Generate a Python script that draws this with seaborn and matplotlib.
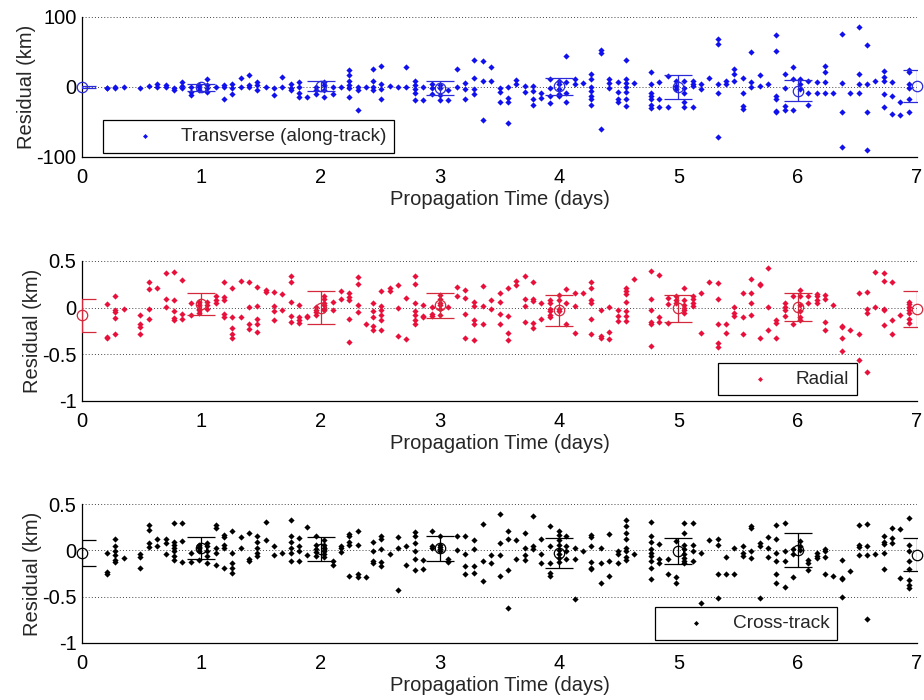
import numpy as np
import pandas as pd
import matplotlib
matplotlib.use("Agg")
import matplotlib.pyplot as plt
import seaborn as sns

# ---------------- data ----------------
times = [0.21, 0.28, 0.35, 0.49, 0.56, 0.63, 0.70, 0.77, 0.84, 0.91, 0.98, 1.05, 1.12, 1.19,
         1.26, 1.33, 1.40, 1.47, 1.54, 1.61, 1.68, 1.75, 1.82, 1.89, 1.96, 2.03, 2.10, 2.17,
         2.24, 2.31, 2.38, 2.44, 2.51, 2.58, 2.65, 2.72, 2.79, 2.86, 2.93, 3.00, 3.07, 3.14,
         3.21, 3.29, 3.36, 3.43, 3.50, 3.57, 3.64, 3.71, 3.78, 3.85, 3.92, 4.00, 4.06, 4.13,
         4.20, 4.27, 4.35, 4.42, 4.49, 4.56, 4.63, 4.77, 4.84, 4.91, 4.98, 5.05, 5.12, 5.19,
         5.26, 5.33, 5.40, 5.47, 5.54, 5.61, 5.68, 5.75, 5.82, 5.89, 5.96, 6.02, 6.09, 6.16,
         6.23, 6.30, 6.37, 6.44, 6.51, 6.58, 6.65, 6.72, 6.79, 6.86, 6.93]

transverse = [
    [-1, -2], [0, -2], [0], [-1], [1], [5, 0], [3, 0], [-1, -4], [7, 2, -2], [0, -7, -12],
    [3, 0, -4], [11, 3, -2, -7], [0], [3, 0, -17], [5, -1, -10], [13, 0], [17, 3, 0],
    [7, 3, -4], [0], [-2, -11], [14, 0], [4, -1, -4], [7, 0, -9, -14], [-14], [0, -4, -10],
    [7, 3, -4, -14], [0, -10], [0], [25, 17, 8, 3, -2, -14], [0, -4, -33], [0],
    [26, 8, 0, -4], [30, 5, -3, -17], [2], [0], [28, 0], [9, 3, -3, -9, -18], [0, -18],
    [5, -2, -10], [3, -2, -11, -18], [-4, -18], [26, 0], [6, -3, -17], [39, 13, -3, -10],
    [37, 9, -47], [28, 9], [-1, -7, -21], [0, -15, -22, -51], [10, 4], [2, -7],
    [2, -6, -17, -25], [-8, -15], [11, -2, -13, -23], [9, 4, -3, -10, -13], [45, 7, -8, -22],
    [12, 4], [6], [18, 12, 0, -6, -13, -17, -25], [53, 49, -60], [12, 6, -2],
    [7, -7, -17, -21], [39, 12, 6, 0, -7, -17, -27], [6], [21, 5, -8, -13, -17, -25, -30],
    [7, -17, -28], [16, -28], [9, 1, -3], [9, -1, -9, -22, -29], [9, 5, 1, -29], [4, -3],
    [13], [68, 61, 4, -9, -72], [9, 4], [26, 18, 9], [13, -9, -27, -32], [50, 7, 0], [17, 2],
    [5], [74, 51, -13, -17, -34, -35], [19, -1, -27, -33], [28, 11, -33], [11, 4, -3],
    [9, -9, -25], [7, -9], [30, 21, 7, -9], [-9], [76, 6, -35, -86], [-9], [85, 18, 4, -8],
    [60, 4, -35, -90], [9], [23, 15, 9, -10, -28], [7, -13, -38], [-21, -40],
    [25, 21, 4, -1, -17, -36]]

radial = [
    [0.04, -0.31, -0.33], [0.12, -0.02, -0.05, -0.11, -0.28], [-0.01], [-0.08, -0.18, -0.21, -0.28],
    [0.27, 0.20, -0.01, -0.12], [0.21], [0.37, 0.09, 0.01], [0.38, 0.08, -0.04, -0.11, -0.13],
    [0.30, -0.07, -0.12], [0.05, -0.08], [0.06, 0.03, -0.01, -0.03, -0.06], [0.06, 0.03, -0.01],
    [0.12, 0.08, 0.05], [0.27, 0.11, 0.08, -0.07, -0.10], [0.21, -0.10, -0.22, -0.28, -0.32],
    [0.29, -0.10], [0.28, 0.01, -0.18, -0.23], [0.22, 0.02, -0.12, -0.18, -0.26], [0.19, 0.17],
    [0.17, 0.02, -0.04, -0.13], [0.15, -0.02], [0.34, 0.28, 0.06, -0.09, -0.15],
    [0.03, -0.10, -0.13, -0.16], [-0.09, -0.10], [0.01, -0.02, -0.05, -0.08],
    [0.13, 0.09, 0.05, 0.03, -0.01, -0.03], [0.06, -0.02], [0.18, 0.09],
    [0.16, 0.11, 0.08, -0.12, -0.37], [0.33, 0.25, 0.03, -0.05], [-0.17],
    [0.05, -0.04, -0.10, -0.20, -0.24], [0.18, 0.02, -0.03, -0.08, -0.13, -0.24], [0.21, 0.18],
    [0.24, 0.00, -0.30], [0.10, -0.34], [0.34, 0.25, 0.05, -0.04, -0.08, -0.13, -0.18],
    [0.03, -0.09, -0.10], [0.01, -0.07, -0.09], [0.14, 0.09, 0.05, 0.03, -0.01, -0.08], [0.01],
    [0.22, 0.13], [0.19, 0.10, -0.07, -0.33], [0.06, 0.02, -0.13, -0.17, -0.35],
    [0.23, 0.02, -0.18], [0.08, -0.01], [0.16, 0.06, -0.07, -0.18], [0.21, -0.09, -0.27, -0.35],
    [0.29, 0.24], [0.34, 0.09, 0.02, -0.15], [0.27, 0.09, 0.07, -0.16, -0.22], [0.05, -0.12],
    [0.08, 0.05, -0.01, -0.04, -0.08, -0.10], [0.14, 0.08, -0.01, -0.04], [0.20, 0.05, -0.17],
    [0.16, 0.02, -0.27], [0.16], [0.27, 0.21, 0.08, 0.05, -0.12, -0.28], [-0.03, -0.30, -0.32],
    [0.01, -0.26, -0.34], [-0.02, -0.09, -0.14], [0.21, 0.18, 0.15, 0.06, -0.04, -0.09, -0.14],
    [0.31], [0.39, 0.09, -0.02, -0.15, -0.18, -0.41], [0.35, -0.10, -0.15], [0.10, 0.04, -0.16],
    [0.12, 0.08, 0.05], [0.21, 0.08, 0.03, 0.00, -0.03, -0.06], [0.13, 0.09, 0.05, 0.02],
    [0.16, -0.27], [0.28], [0.26, 0.09, -0.18, -0.38, -0.42], [-0.18, -0.27], [0.01, -0.06, -0.09],
    [0.16, -0.10, -0.28], [0.31, 0.16, 0.05, -0.08], [0.25, 0.24, -0.33], [0.42, 0.01, -0.24],
    [-0.13, -0.16, -0.32], [0.05, 0.01, -0.02, -0.09], [0.12, -0.18],
    [0.19, 0.13, 0.03, -0.04, -0.10, -0.13], [0.13, 0.05], [0.15, 0.12, 0.08, 0.05],
    [0.14, 0.09, -0.15, -0.24], [0.03], [-0.20, -0.21, -0.32, -0.46], [-0.24],
    [0.16, -0.28, -0.56], [0.17, -0.01, -0.06, -0.69], [0.38, 0.01],
    [0.37, 0.29, -0.01, -0.02, -0.19], [0.27, -0.13, -0.28], [-0.08],
    [0.06, 0.04, 0.01, -0.02, -0.06, -0.12, -0.16]]

cross = [
    [-0.03, -0.23, -0.26], [0.12, 0.05, -0.01, -0.05, -0.10, -0.13], [-0.08], [-0.04, -0.07, -0.19],
    [0.27, 0.22, 0.08, 0.04], [0.12, 0.05], [0.12, 0.08, -0.04],
    [0.29, 0.09, 0.06, 0.03, -0.01, -0.06, -0.10], [0.29, 0.10, -0.13], [-0.03, -0.13],
    [0.06, 0.04, 0.02, -0.01, -0.10], [0.08, 0.05, -0.01, -0.06, -0.14],
    [0.27, 0.24, 0.02, -0.03, -0.16], [0.17, 0.14, 0.06, 0.02, -0.19],
    [0.21, -0.03, -0.14, -0.19, -0.24], [0.14, 0.03], [0.19, -0.09, -0.12],
    [0.15, 0.09, 0.03, -0.03, -0.06], [0.31, 0.11], [0.05, -0.05], [-0.03],
    [0.33, 0.16, 0.09, 0.02, -0.03, -0.11], [0.13, 0.05, -0.01, -0.11], [0.25, -0.05],
    [0.16, 0.06, 0.01, -0.02, -0.06], [0.11, 0.06, 0.02, -0.01, -0.04, -0.07], [-0.11, -0.16],
    [0.05, 0.02, -0.02], [0.18, 0.15, 0.09, 0.06, -0.28], [0.21, 0.06, -0.26, -0.29], [-0.29],
    [0.09, -0.01, -0.11, -0.14], [0.15, 0.12, 0.01, -0.13, -0.17], [-0.04], [0.14, 0.02, -0.43],
    [0.05, -0.16], [0.20, 0.16, 0.08, -0.01, -0.09, -0.21], [-0.10, -0.20], [0.21, 0.05, 0.03],
    [0.16, 0.06, 0.04, 0.01, -0.01], [-0.09, -0.13], [0.15, 0.00], [0.15, -0.04, -0.17, -0.25],
    [0.11, 0.01, -0.17, -0.24], [0.28, -0.12, -0.33], [-0.05, -0.14], [0.39, 0.08, -0.05, -0.28],
    [0.21, 0.12, -0.21, -0.62], [0.11, -0.09], [0.19, 0.03, -0.05, -0.10], [0.37, 0.05, 0.01],
    [0.12, -0.04, -0.14], [0.26, 0.05, -0.14, -0.24, -0.28],
    [0.21, 0.17, 0.11, 0.06, 0.00, -0.04, -0.08, -0.13], [0.16, 0.05, -0.01, -0.09],
    [0.02, -0.09, -0.53], [-0.01], [0.17, 0.14, 0.05, -0.13, -0.19, -0.20], [0.03, -0.14, -0.35],
    [0.18, -0.12, -0.28], [-0.01, -0.04, -0.14], [0.33, 0.26, 0.19, 0.12, 0.03, -0.01, -0.07, -0.10],
    [-0.04], [0.31, 0.15, 0.09, 0.01, -0.03, -0.06, -0.11, -0.19, -0.31], [0.07, -0.09, -0.14],
    [-0.09, -0.25], [0.10, -0.29, -0.35], [0.30, 0.19, 0.06, 0.01, -0.04, -0.08, -0.11, -0.14],
    [0.29, 0.06, -0.01, -0.11], [-0.03, -0.57], [0.11], [0.12, 0.06, -0.26, -0.51], [-0.07, -0.26],
    [0.02, -0.25], [0.05, -0.03, -0.06], [0.26, 0.24, -0.01, -0.08], [0.08, 0.05, -0.51],
    [0.14, 0.03, -0.07], [0.27, 0.12, -0.03, -0.11, -0.25, -0.35], [0.30, -0.01, -0.11, -0.40],
    [0.01, -0.04, -0.29], [0.10, 0.05, 0.00], [-0.10, -0.14, -0.21], [-0.03, -0.06, -0.08],
    [0.01, -0.01, -0.07, -0.25], [-0.28], [-0.10, -0.30, -0.31, -0.50], [-0.22],
    [0.27, 0.06, 0.04, -0.05], [0.28, 0.05, -0.05, -0.74], [-0.04], [0.15, 0.09, 0.07, -0.03, -0.20],
    [0.24, 0.13, 0.08], [0.23, -0.30], [0.35, 0.06, -0.01, -0.11, -0.20, -0.32, -0.37, -0.41]]

days = [0, 1, 2, 3, 4, 5, 6, 7]
trans_mean = [0, -0.5, 1.5, -2, 1, 0, -5, 2]
trans_err = [1, 4.5, 6.5, 10, 12, 16.5, 15, 23]
radial_mean = [-0.08, 0.04, 0.0, 0.025, -0.03, -0.005, 0.01, -0.015]
radial_err = [0.177, 0.12, 0.175, 0.135, 0.17, 0.145, 0.15, 0.195]
cross_mean = [-0.03, 0.025, 0.015, 0.02, -0.03, -0.01, 0.005, -0.045]
cross_err = [0.14, 0.115, 0.125, 0.13, 0.16, 0.14, 0.185, 0.175]

labels = ["Transverse (along-track)", "Radial", "Cross-track"]
xticks = [0, 1, 2, 3, 4, 5, 6, 7]
yticks_trans = [-100, 0, 100]
yticks_small = [-1, -0.5, 0, 0.5]

# ---------------- style ----------------
sns.set_theme(style="white")
plt.rcParams['font.family'] = ['Liberation Sans', 'DejaVu Sans']
plt.rcParams['axes.unicode_minus'] = False

FS = 14.5
LFS = 13.7


def to_frame(cols):
    tt, rr = [], []
    for t, vals in zip(times, cols):
        for v in vals:
            tt.append(t)
            rr.append(v)
    return pd.DataFrame({"t": tt, "res": rr})


fig = plt.figure(figsize=(9.24, 7.0), dpi=100)
W, H = 924, 700
left_px, right_px = 82, 917
panels = [
    dict(data=transverse, mean=trans_mean, err=trans_err, color="#1010ee", ecolor="#2a2ad8",
         top=17, bot=157, ylim=(-100, 100), yticks=yticks_trans, label=labels[0],
         leg=dict(loc="lower left", anchor=(0.025, 0.03))),
    dict(data=radial, mean=radial_mean, err=radial_err, color="#e8103a", ecolor="#d4283c",
         top=261, bot=401, ylim=(-1, 0.5), yticks=yticks_small, label=labels[1],
         leg=dict(loc="lower right", anchor=(0.928, 0.04))),
    dict(data=cross, mean=cross_mean, err=cross_err, color="#000000", ecolor="#000000",
         top=504, bot=643, ylim=(-1, 0.5), yticks=yticks_small, label=labels[2],
         leg=dict(loc="lower right", anchor=(0.904, 0.025))),
]

for p in panels:
    ax = fig.add_axes([left_px / W, 1 - p["bot"] / H, (right_px - left_px) / W,
                       (p["bot"] - p["top"]) / H])
    df = to_frame(p["data"])
    sns.scatterplot(data=df, x="t", y="res", ax=ax, color=p["color"], marker="D", s=10,
                    linewidth=0, label=p["label"], zorder=3)
    ax.errorbar(days, p["mean"], yerr=p["err"], fmt="none", ecolor=p["ecolor"],
                elinewidth=0.9, capsize=10, capthick=0.9, zorder=4)
    ax.plot(days, p["mean"], linestyle="none", marker="o", markersize=7.5,
            markerfacecolor="none", markeredgecolor=p["ecolor"], markeredgewidth=0.9,
            clip_on=False, zorder=5)
    ax.set_xlim(0, 7)
    ax.set_ylim(*p["ylim"])
    ax.set_xticks(xticks)
    ax.set_yticks(p["yticks"])
    ax.set_yticklabels([f"{v:g}" for v in p["yticks"]])
    for y in p["yticks"]:
        if y != p["ylim"][0]:
            ax.axhline(y, color="#444444", linestyle=(0, (1, 2.2)), linewidth=0.7, zorder=1)
    for s in ["top", "right"]:
        ax.spines[s].set_visible(False)
    for s in ["left", "bottom"]:
        ax.spines[s].set_color("black")
        ax.spines[s].set_linewidth(0.9)
    ax.tick_params(axis="x", direction="in", length=5, width=0.8, colors="black",
                   labelsize=FS, pad=8.2)
    ax.tick_params(axis="y", direction="in", length=0, colors="black", labelsize=FS, pad=4)
    ax.set_xlabel("Propagation Time (days)", fontsize=FS, labelpad=2)
    ax.set_ylabel("Residual (km)", fontsize=FS, labelpad=0)
    leg = ax.legend(loc=p["leg"]["loc"], bbox_to_anchor=p["leg"]["anchor"], borderaxespad=0,
                    frameon=True, fancybox=False, fontsize=LFS, handlelength=3.6,
                    handletextpad=0.1, borderpad=0.4, markerscale=0.8)
    leg.get_frame().set_edgecolor("black")
    leg.get_frame().set_linewidth(0.9)
    leg.get_frame().set_facecolor("white")
    leg.get_frame().set_alpha(1)

fig.savefig("out.png", dpi=100)
